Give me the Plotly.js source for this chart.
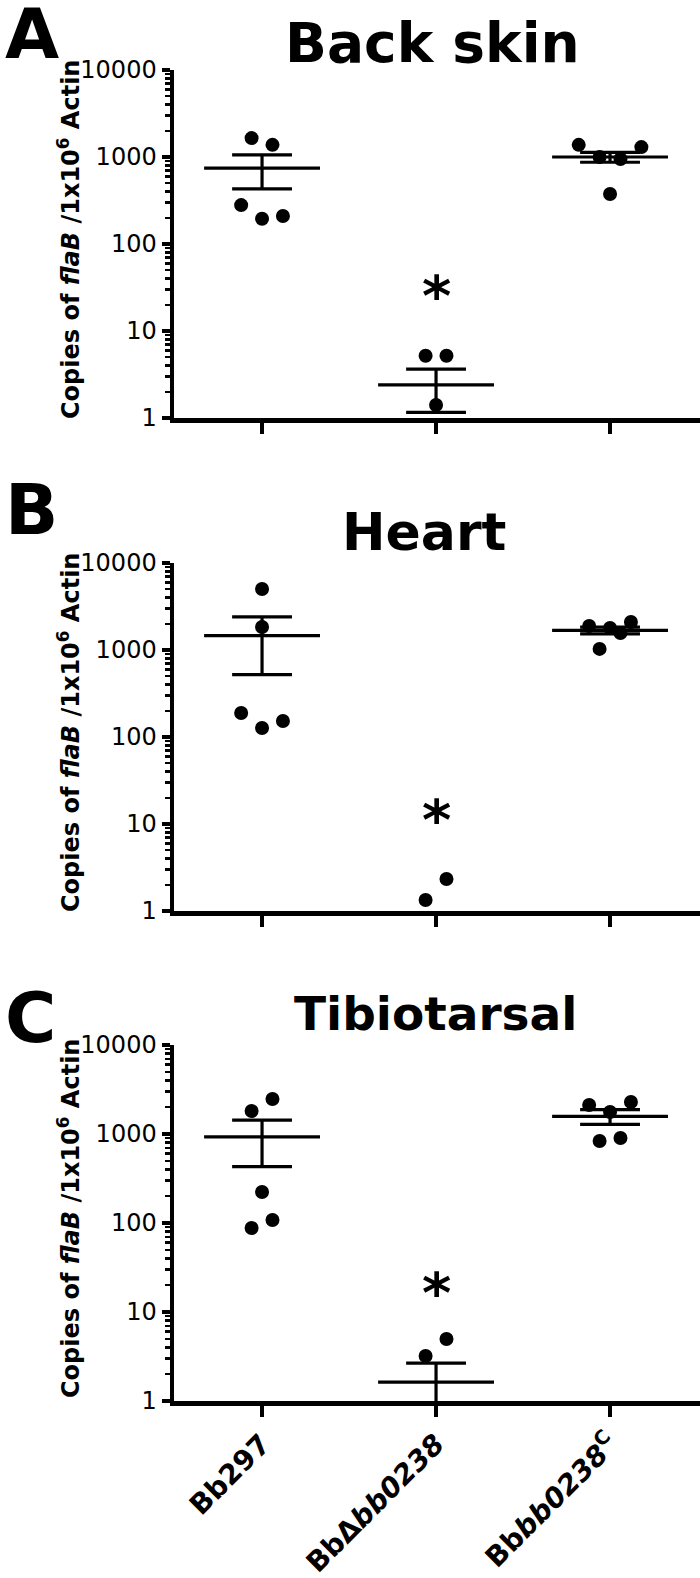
<!DOCTYPE html>
<html>
<head>
<meta charset="utf-8">
<script src="https://cdn.plot.ly/plotly-3.0.1.min.js"></script>
<style>html,body{margin:0;padding:0;background:#fff;}#chart{width:700px;height:1578px;}</style>
</head>
<body>
<div id="chart"></div>
<script>
// ---- Data ----
const categories = ['Bb297', 'BbΔbb0238', 'Bbbb0238C'];
const tickLabels = ['<b>Bb297</b>', '<b>BbΔ<i>bb0238</i></b>', '<b>Bb<i>bb0238</i><sup>C</sup></b>'];
const panelTitles = ['Back skin', 'Heart', 'Tibiotarsal'];
const panelLetters = ['A', 'B', 'C'];
const yTickVals = [1, 10, 100, 1000, 10000];
const yTickText = ['1', '10', '100', '1000', '10000'];

// Individual mice (copies of flaB per 1x10^6 actin)
const backSkinBb297 = [1650, 1380, 280, 195, 210];
const backSkinDelta = [5.2, 5.2, 1.41];
const backSkinComp  = [1380, 1300, 375, 1000, 950];
const heartBb297    = [5020, 1840, 189, 127, 153];
const heartDelta    = [1.34, 2.33];
const heartComp     = [1890, 1790, 2100, 1570, 1030];
const tibioBb297    = [1810, 2470, 223, 88, 108];
const tibioDelta    = [3.2, 4.97];
const tibioComp     = [2120, 2290, 1770, 835, 900];

// Column slot of each dot inside its group (scatter-plot spread)
const backSkinBb297Slot = [-1, 1, -2, 0, 2];
const backSkinDeltaSlot = [-1, 1, 0];
const backSkinCompSlot  = [-3, 3, 0, -1, 1];
const heartBb297Slot    = [0, 0, -2, 0, 2];
const heartDeltaSlot    = [-1, 1];
const heartCompSlot     = [-2, 0, 2, 1, -1];
const tibioBb297Slot    = [-1, 1, 0, -1, 1];
const tibioDeltaSlot    = [-1, 1];
const tibioCompSlot     = [-2, 2, 0, -1, 1];

// Mean and SEM per group (null = not drawn)
const backSkinMean = [745, 2.4, 1000];
const backSkinSem  = [315, 1.24, 130];
const heartMean    = [1460, null, 1680];
const heartSem     = [940, null, 150];
const tibioMean    = [930, 1.63, 1580];
const tibioSem     = [500, 1.04, 300];

// Significance marker height (data units)
const asteriskY = [36, 15.7, 23];

// ---- Build figure ----
const W = 700, H = 1578, L = 174;
const panels = [
  {vals: [backSkinBb297, backSkinDelta, backSkinComp], slots: [backSkinBb297Slot, backSkinDeltaSlot, backSkinCompSlot], mean: backSkinMean, sem: backSkinSem, top: 70, bottom: 418},
  {vals: [heartBb297, heartDelta, heartComp], slots: [heartBb297Slot, heartDeltaSlot, heartCompSlot], mean: heartMean, sem: heartSem, top: 563, bottom: 911},
  {vals: [tibioBb297, tibioDelta, tibioComp], slots: [tibioBb297Slot, tibioDeltaSlot, tibioCompSlot], mean: tibioMean, sem: tibioSem, top: 1045, bottom: 1401}
];
const letterY = [34, 510, 1018];
const titleY = [43, 532, 1013];
const titleX = [432, 424, 435];
const titleSize = [55, 52, 47];

const SLOT = 0.06, HALF = 0.333, CAP = 0.172;
const FONT = 'DejaVu Sans, Arial, sans-serif';
const px2x = px => (px - L) / (W - L);
const py2y = py => 1 - py / H;

const traces = [];
const annotations = [];
const layout = {
  width: W, height: H,
  margin: {l: L, r: 0, t: 0, b: 0},
  paper_bgcolor: '#fff', plot_bgcolor: '#fff',
  showlegend: false,
  font: {family: FONT, color: '#000'}
};

panels.forEach((p, k) => {
  const sfx = k === 0 ? '' : String(k + 1);
  const xa = 'x' + sfx, ya = 'y' + sfx;

  // mean / SEM lines
  const lx = [], ly = [];
  p.mean.forEach((m, g) => {
    if (m === null) return;
    const s = p.sem[g];
    lx.push(g - HALF, g + HALF, null, g - CAP, g + CAP, null, g - CAP, g + CAP, null, g, g, null);
    ly.push(m, m, null, m + s, m + s, null, m - s, m - s, null, m - s, m + s, null);
  });
  traces.push({type: 'scatter', mode: 'lines', x: lx, y: ly, xaxis: xa, yaxis: ya,
    line: {color: '#000', width: 3.2}, hoverinfo: 'skip'});

  // points
  p.vals.forEach((v, g) => {
    traces.push({type: 'scatter', mode: 'markers', xaxis: xa, yaxis: ya,
      x: v.map((_, i) => g + p.slots[g][i] * SLOT), y: v,
      marker: {color: '#000', size: 14, line: {width: 0}}, name: categories[g]});
  });

  const xax = {
    domain: [0, 1], anchor: ya, range: [-0.506, 2.517],
    tickmode: 'array', tickvals: [0, 1, 2],
    ticks: 'outside', ticklen: 11, tickwidth: 3.5, tickcolor: '#000',
    showline: true, linewidth: 4.5, linecolor: '#000',
    showgrid: false, zeroline: false, fixedrange: true
  };
  if (k === 2) {
    xax.ticktext = tickLabels;
    xax.showticklabels = true;
    xax.tickangle = -45;
    xax.tickfont = {family: FONT, size: 28, color: '#000', weight: 'bold'};
  } else {
    xax.ticktext = ['', '', ''];
    xax.showticklabels = false;
  }
  layout['xaxis' + sfx] = xax;
  layout['yaxis' + sfx] = {
    domain: [py2y(p.bottom), py2y(p.top)], anchor: xa,
    type: 'log', range: [0, 4],
    tickmode: 'array', tickvals: yTickVals, ticktext: yTickText,
    tickfont: {family: FONT, size: 24, color: '#000'},
    ticks: 'outside', ticklen: 8, tickwidth: 4, tickcolor: '#000',
    minor: {ticks: 'outside', ticklen: 5, tickwidth: 2.5, tickcolor: '#000', dtick: 'D1'},
    showline: true, linewidth: 4.5, linecolor: '#000',
    showgrid: false, zeroline: false, fixedrange: true
  };

  // panel letter
  annotations.push({xref: 'paper', yref: 'paper', x: px2x(3), y: py2y(letterY[k]),
    xanchor: 'left', yanchor: 'middle', showarrow: false,
    text: '<b>' + panelLetters[k] + '</b>', font: {family: FONT, size: 70, color: '#000'}});
  // panel title
  annotations.push({xref: 'paper', yref: 'paper', x: px2x(titleX[k]), y: py2y(titleY[k]),
    xanchor: 'center', yanchor: 'middle', showarrow: false,
    text: '<b>' + panelTitles[k] + '</b>', font: {family: FONT, size: titleSize[k], color: '#000'}});
  // y-axis title
  annotations.push({xref: 'paper', yref: 'paper', x: px2x(69), y: py2y((p.top + p.bottom) / 2 - 4),
    xanchor: 'center', yanchor: 'middle', showarrow: false, textangle: -90,
    text: '<b>Copies of <i>flaB</i> /1x10<sup>6</sup> Actin</b>', font: {family: FONT, size: 24, color: '#000'}});
  // significance asterisk
  annotations.push({xref: xa, yref: ya, x: 1, y: Math.log10(asteriskY[k]),
    xanchor: 'center', yanchor: 'middle', showarrow: false, yshift: -13,
    text: '<b>*</b>', font: {family: FONT, size: 56, color: '#000'}});
});

layout.annotations = annotations;
Plotly.newPlot('chart', traces, layout, {staticPlot: true, displayModeBar: false});
</script>
</body>
</html>
